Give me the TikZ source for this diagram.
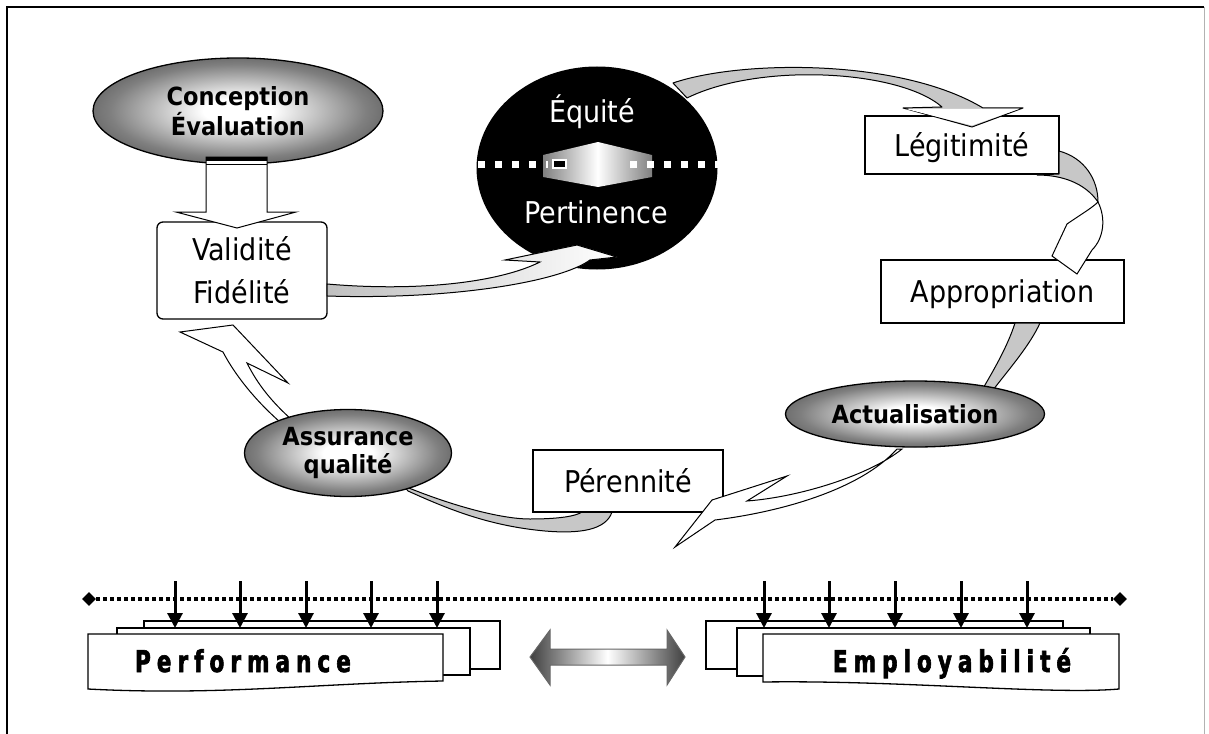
\documentclass[tikz,border=0pt]{standalone}
\usepackage{fontspec}
\setmainfont{DejaVu Sans Condensed}
\newfontfamily\trackfont[FakeStretch=0.8,FakeBold=2,LetterSpace=20]{DejaVu Sans Condensed}
\usetikzlibrary{arrows.meta,shapes.geometric}
\pgfdeclareradialshading{glow}{\pgfpoint{0bp}{0bp}}{color(0bp)=(white); color(6bp)=(white); color(22bp)=(black!50); color(34bp)=(black!75); color(50bp)=(black!82)}

\begin{document}
\begin{tikzpicture}[x=1pt,y=-1pt,
  box/.style={draw,line width=1.3pt,fill=white,inner sep=0pt,font=\fontsize{30}{43}\selectfont},
  word/.style={inner sep=0pt,text height=22pt,text depth=0pt,font=\fontsize{30}{36}\selectfont},
  flat/.style={box,word},
  oval/.style={ellipse,draw,line width=1.3pt,shade,shading=glow,inner sep=0pt,align=center,font=\fontsize{25}{28}\selectfont\bfseries},
  band/.style={draw,line width=1pt,fill=black!22,line join=round},
  swoosh/.style={draw,line width=1pt,fill=white},
  sheet/.style={draw,line width=1.3pt,fill=white},
  tick/.style={-{Triangle[width=15pt,length=15pt]},line width=3pt},
  tracked/.style={inner sep=0pt,text height=22pt,text depth=0pt,font=\trackfont\bfseries\fontsize{30}{30}\selectfont}]
\useasboundingbox (0,0) rectangle (1209,733);
\draw[line width=1.6pt] (7,745) -- (7,7) -- (1204,7);
\draw[black!30,line width=1pt] (1204,7) -- (1204,745);
\node[flat,minimum width=194pt,minimum height=58pt] (legit) at (962,145) {Légitimité};
\node[flat,minimum width=243pt,minimum height=63pt] (appro) at (1002.5,291.5) {Appropriation};
\node[box,rounded corners=6pt,align=center,minimum width=170pt,minimum height=97pt] (valid) at (242,270.5) {Validité\\Fidélité};
\draw[band] (612,512) .. controls (606,530) and (580,534) .. (545,531) .. controls (490,526) and (450,510) .. (408,491) -- (404,486) .. controls (450,505) and (500,519) .. (530,519) .. controls (560,519) and (576,516) .. (582,512) -- cycle;
\node[flat,minimum width=190pt,minimum height=62pt] (peren) at (628,481) {Pérennité};
\draw[band] (673,83) .. controls (740,60) and (900,58) .. (983,108) -- (1023,108) -- (972,127) -- (903,108) -- (942,107) .. controls (900,70) and (760,62) .. (687,98) -- cycle;
\fill[white] (906,109) -- (1019,109) -- (972,125.5) -- cycle;
\draw[band] (1015,323) .. controls (1008,345) and (995,368) .. (982,390) -- (993,390) .. controls (1010,368) and (1030,345) .. (1040,323) -- cycle;
\draw[swoosh] (902,449) .. controls (870,475) and (800,497) .. (747,501) -- (787,476) -- (712,500) -- (675,547) -- (715,520) .. controls (780,512) and (860,490) .. (897,449) -- cycle;
\draw[swoosh] (180,332) -- (233,325) -- (288,383) -- (247,363) .. controls (258,385) and (272,402) .. (292,420) -- (280,422) .. controls (255,400) and (235,375) .. (223,352) -- cycle;
\node[ellipse,fill=black,minimum width=241pt,minimum height=203pt,inner sep=0pt] (disc) at (597,168) {};
\shade[left color=black!50,right color=black!50,middle color=white] (543,155) -- (598,142) -- (652,155) -- (652,177) -- (598,187) -- (543,177) -- cycle;
\draw[white,line width=7pt,dash pattern=on 7pt off 10pt] (478,164) -- (548,164);
\draw[white,line width=1.5pt,fill=black] (553,160) rectangle (566,168);
\draw[white,line width=7pt,dash pattern=on 7pt off 10pt] (630,164) -- (718,164);
\node[word,text=white] (equ) at (592,111) {Équité};
\node[word,text=white] (pert) at (596,212) {Pertinence};
\draw[swoosh,left color=black!25,right color=white] (327,284) .. controls (420,292) and (500,282) .. (540,262) -- (505,260) -- (577,245) -- (617,257) -- (590,260) .. controls (560,282) and (450,300) .. (327,296) -- cycle;
\draw[band] (1059,151) .. controls (1085,158) and (1098,180) .. (1098,202) .. controls (1085,183) and (1062,175) .. (1037,175) -- (1059,174) -- cycle;
\draw[swoosh] (1098,202) .. controls (1106,218) and (1104,238) .. (1092,250) -- (1077,274) -- (1052,256) -- (1067,224) .. controls (1080,215) and (1092,208) .. (1098,202) -- cycle;
\node[oval,minimum width=259pt,minimum height=66pt] (actu) at (915,414) {Actualisation};
\node[oval,minimum width=207pt,minimum height=87pt] (assur) at (348,453) {Assurance\\qualité};
\node[oval,minimum width=290pt,minimum height=106pt] (concep) at (238,111) {Conception\\Évaluation};
\draw[swoosh] (206,157) -- (267,157) -- (267,212) -- (296,212) -- (237,228) -- (176,212) -- (206,212) -- cycle;
\fill (206,157) rectangle (267,161);
\draw[line width=1pt] (206,164) -- (267,164);
\node[diamond,fill,inner sep=0pt,minimum size=14pt] (lend) at (89,599) {};
\node[diamond,fill,inner sep=0pt,minimum size=14pt] (rend) at (1120,599) {};
\draw[line width=3.5pt,dash pattern=on 3.5pt off 3.5pt] (lend) -- (rend);
\draw[sheet] (144,621) rectangle (500,669);
\draw[sheet] (117,628) rectangle (470,675);
\draw[sheet] (88,634) -- (443,634) -- (443,681) .. controls (320,683) and (220,696) .. (88,689) -- cycle;
\node[tracked] (perf) at (243,661) {Performance};
\draw[sheet] (706,621) rectangle (1063,669);
\draw[sheet] (737,628) rectangle (1090,676);
\draw[sheet] (763,634) -- (1119,634) -- (1119,689) .. controls (1050,695) and (900,680) .. (763,682) -- cycle;
\node[tracked] (emplo) at (952,661) {Employabilité};
\foreach \x in {175,240,306,371,437,764,829,895,961,1027}
  \draw[tick] (\x,581) -- (\x,628);
\shadedraw[draw=black!60,line width=1pt,left color=black!75,right color=black!75,middle color=white] (530,657) -- (550,630) -- (550,649) -- (667,649) -- (667,630) -- (685,657) -- (667,685) -- (667,665) -- (550,665) -- (550,685) -- cycle;
\end{tikzpicture}
\end{document}
